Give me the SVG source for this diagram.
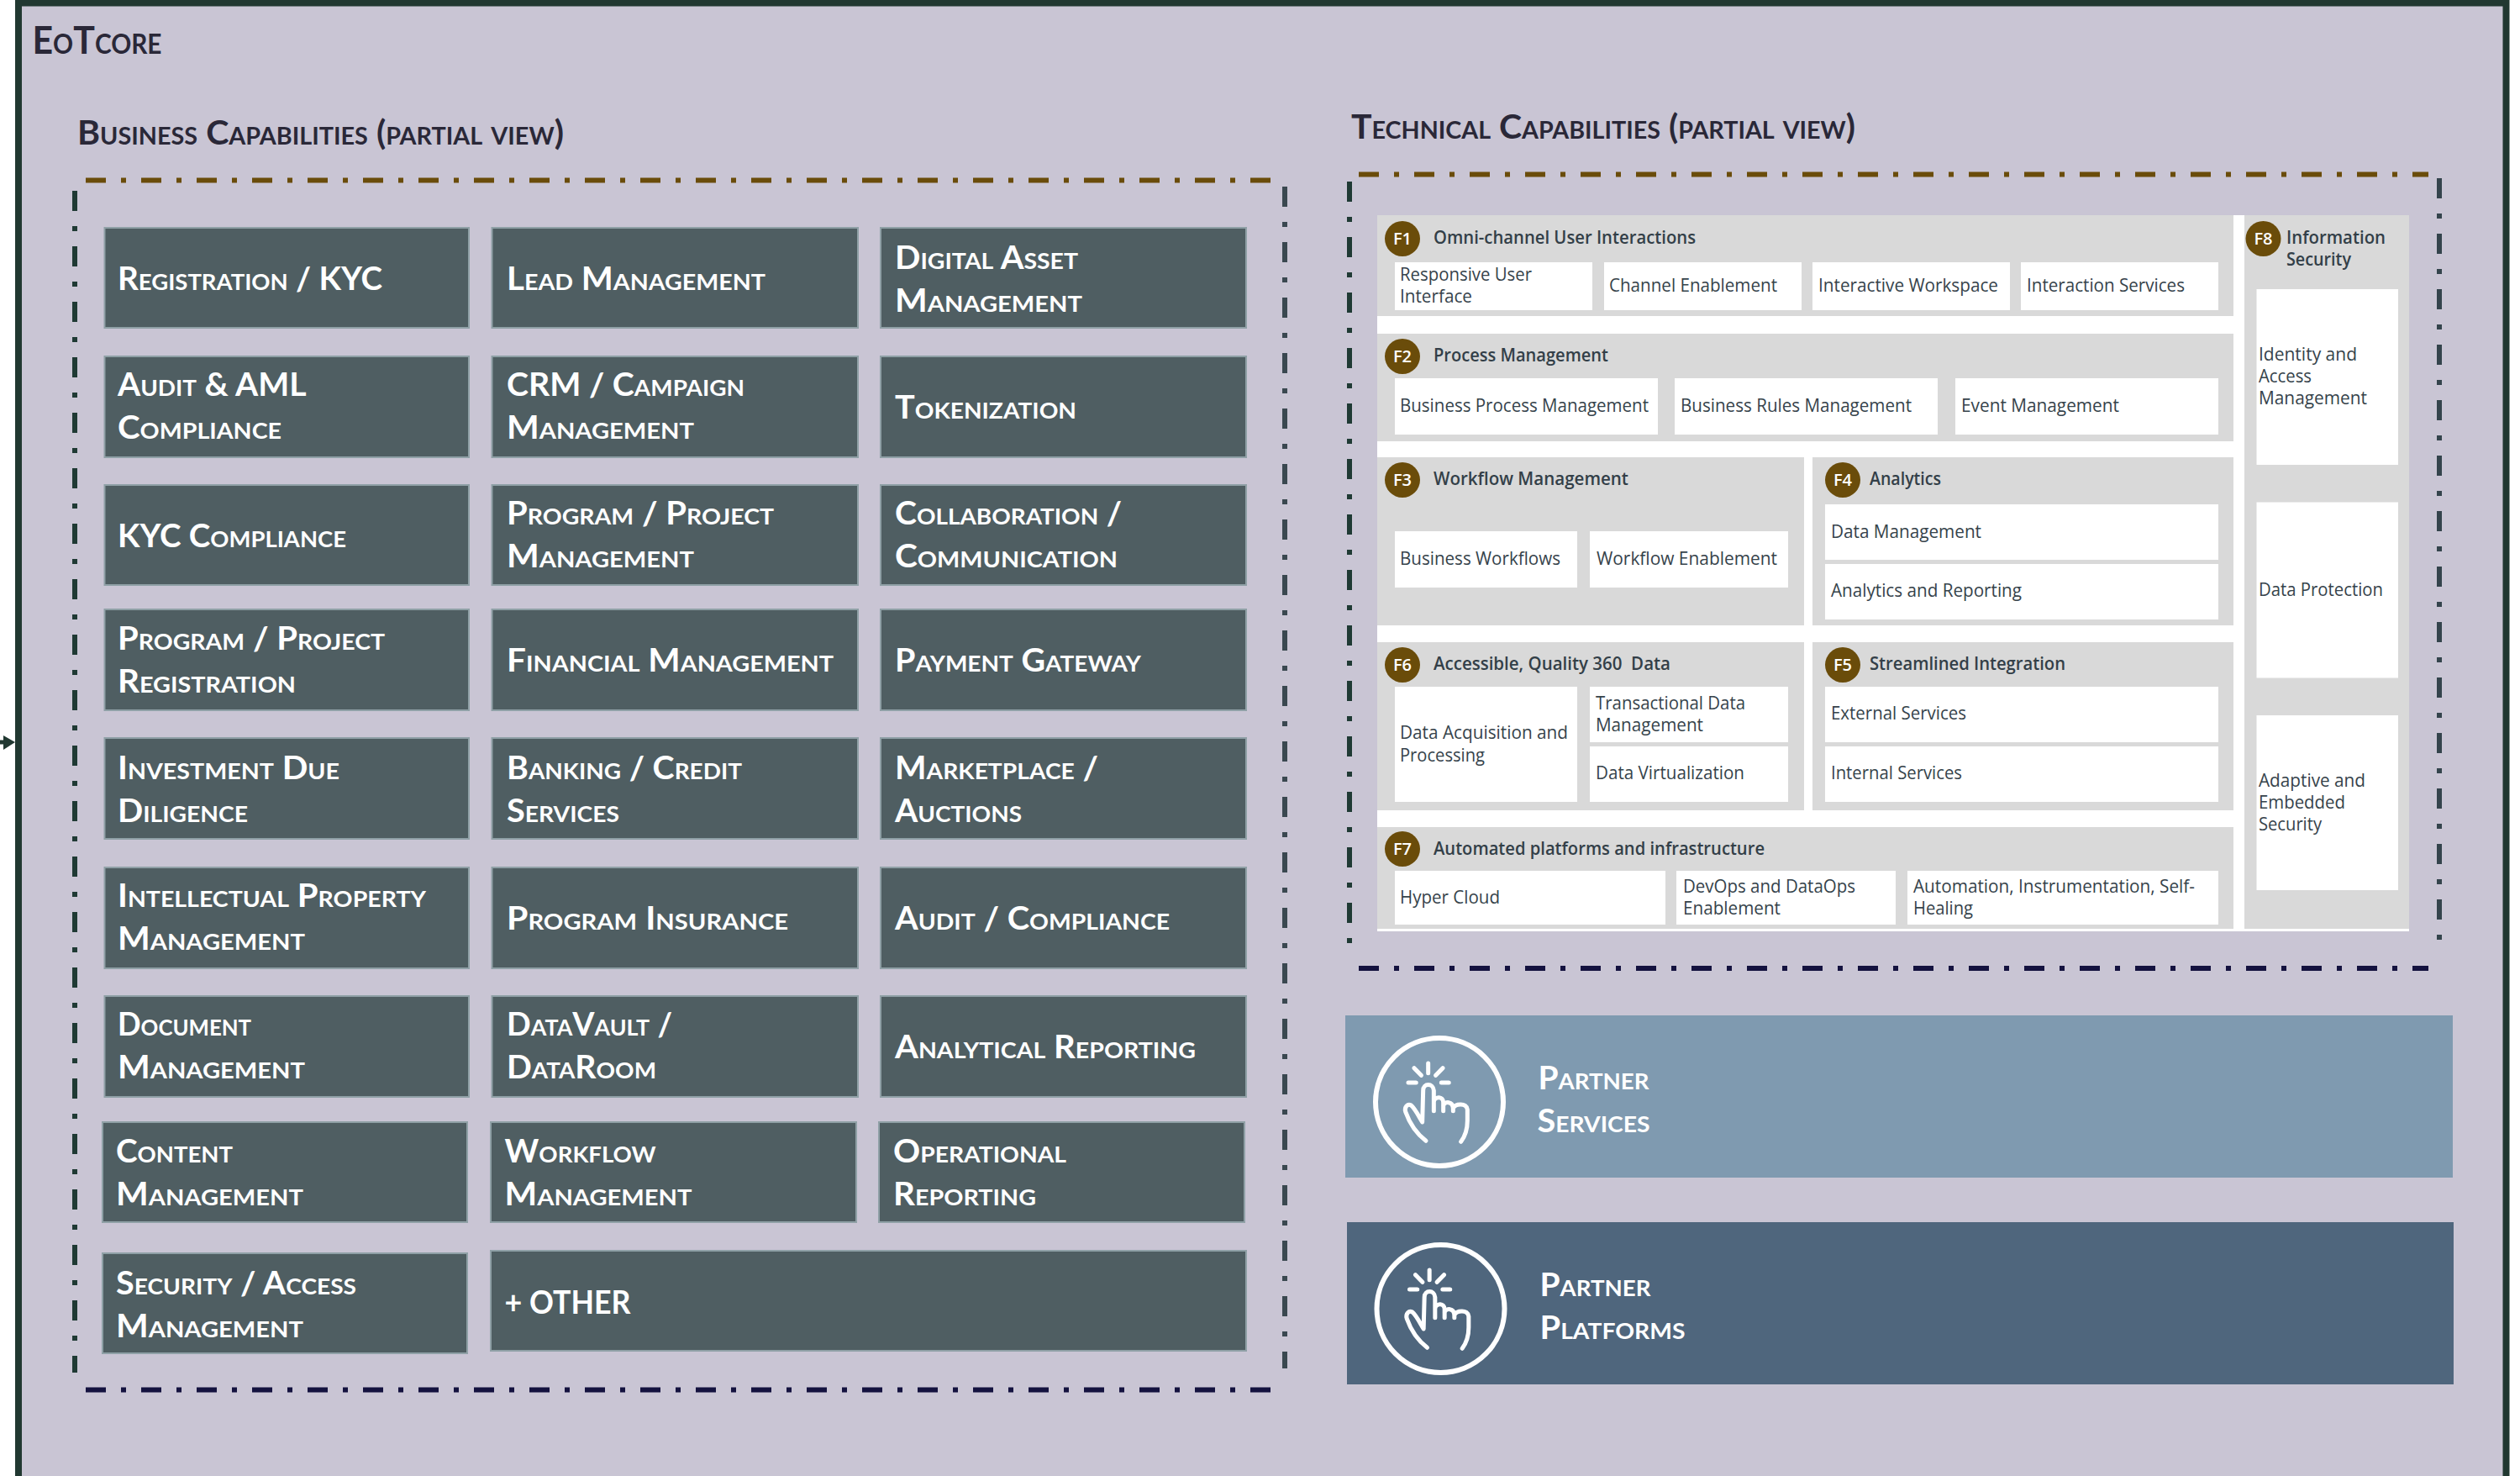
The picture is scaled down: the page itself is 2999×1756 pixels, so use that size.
<svg xmlns="http://www.w3.org/2000/svg" width="2999" height="1756" viewBox="0 0 2999 1756">
<style>
text{white-space:pre}
.c{font-family:"Lato","Liberation Sans",sans-serif;font-variant:small-caps;font-weight:700;font-size:38px;fill:#fff}
.h{font-family:"Lato","Liberation Sans",sans-serif;font-variant:small-caps;font-weight:700;font-size:40px;fill:#2a2838}
.b{fill:#4f5e62;stroke:#8fa0a6;stroke-width:2}
.t{font-family:"Open Sans","Liberation Sans",sans-serif;font-size:21px;fill:#36434b}
.s{font-family:"Open Sans","Liberation Sans",sans-serif;font-size:21px;font-weight:600;fill:#333f48}
.n{font-family:"Open Sans","Liberation Sans",sans-serif;font-size:20px;font-weight:600;fill:#fff;text-anchor:middle}
.p{fill:#d9d9d9}
.w{fill:#fff}
.f{fill:#6a4c0a}
.d{fill:none;stroke-width:6;stroke-dasharray:24 18 6 18}
.i{fill:none;stroke:#fff;stroke-width:6}
.a{fill:none;stroke:#fff;stroke-width:15;stroke-linecap:round;stroke-linejoin:round}
</style>
<defs>
<g id="hand" transform="scale(.3333) translate(-248 -273)">
<path class="a" d="M208 135V170M158 152L183 178M260 152L235 178M137 204H165M255 204H282"/>
<path class="a" d="M200 412C165 385 140 345 127 308C122 290 135 278 147 285C160 295 175 325 187 345L190 232C190 205 226 205 228 232L228 305M228 272C232 252 262 252 262 275L262 305M262 285C268 270 295 270 297 295L297 305M297 295C305 278 345 275 348 300L348 340C348 370 340 395 325 415"/>
</g>
</defs>
<rect width="2999" height="1756" fill="#fff"/>
<path id="frame" d="M22 1780V3.500H2982.500V1780Z" fill="#c9c5d4" stroke="#213831" stroke-width="8"/>
<text class="h" x="38.500" y="64" style="font-size:46px" textLength="154" lengthAdjust="spacingAndGlyphs">EoTcore</text>
<text class="h" x="92" y="172" textLength="579" lengthAdjust="spacingAndGlyphs">Business Capabilities (partial view)</text>
<text class="h" x="1608" y="165" textLength="600" lengthAdjust="spacingAndGlyphs">Technical Capabilities (partial view)</text>
<g id="connectors">
<path d="M0 883H6" stroke="#213831" stroke-width="5" fill="none"/>
<path d="M4 875L18 883L4 892Z" fill="#213831"/>
</g>
<g id="business-border">
<path class="d" stroke="#6a4c0a" d="M102 214.500H1512"/>
<path class="d" stroke="#14123f" d="M102 1653.500H1512"/>
<path class="d" stroke="#1f3a34" d="M89 227V1633"/>
<path class="d" stroke="#3a4850" d="M1529 222V1628"/>
</g>
<g id="technical-border">
<path class="d" stroke="#6a4c0a" d="M1617 207.500H2890"/>
<path class="d" stroke="#14123f" d="M1617 1152H2890"/>
<path class="d" stroke="#1f3a34" d="M1606 216V1125"/>
<path class="d" stroke="#34444c" d="M2903 212V1122"/>
</g>
<g id="biz-registration"><rect class="b" x="124.500" y="271" width="433.500" height="119"/><text class="c" x="140" y="345" textLength="315" lengthAdjust="spacingAndGlyphs">Registration / KYC</text></g>
<g id="biz-lead"><rect class="b" x="585.500" y="271" width="435.500" height="119"/><text class="c" x="603" y="345" textLength="308" lengthAdjust="spacingAndGlyphs">Lead Management</text></g>
<g id="biz-digital"><rect class="b" x="1048" y="271" width="435" height="119"/><text class="c" x="1065" y="320" textLength="218" lengthAdjust="spacingAndGlyphs">Digital Asset</text><text class="c" x="1065" y="371" textLength="223" lengthAdjust="spacingAndGlyphs">Management</text></g>
<g id="biz-audit-aml"><rect class="b" x="124.500" y="424" width="433.500" height="120"/><text class="c" x="140" y="470.500" textLength="224.500" lengthAdjust="spacingAndGlyphs">Audit &amp; AML</text><text class="c" x="140" y="521.500" textLength="195" lengthAdjust="spacingAndGlyphs">Compliance</text></g>
<g id="biz-crm"><rect class="b" x="585.500" y="424" width="435.500" height="120"/><text class="c" x="603" y="470.500" textLength="283" lengthAdjust="spacingAndGlyphs">CRM / Campaign</text><text class="c" x="603" y="521.500" textLength="223" lengthAdjust="spacingAndGlyphs">Management</text></g>
<g id="biz-token"><rect class="b" x="1048" y="424" width="435" height="120"/><text class="c" x="1065" y="497.500" textLength="216" lengthAdjust="spacingAndGlyphs">Tokenization</text></g>
<g id="biz-kyc"><rect class="b" x="124.500" y="577" width="433.500" height="119"/><text class="c" x="140" y="651" textLength="272" lengthAdjust="spacingAndGlyphs">KYC Compliance</text></g>
<g id="biz-program"><rect class="b" x="585.500" y="577" width="435.500" height="119"/><text class="c" x="603" y="624" textLength="318" lengthAdjust="spacingAndGlyphs">Program / Project</text><text class="c" x="603" y="675" textLength="223" lengthAdjust="spacingAndGlyphs">Management</text></g>
<g id="biz-collab"><rect class="b" x="1048" y="577" width="435" height="119"/><text class="c" x="1065" y="624" textLength="270" lengthAdjust="spacingAndGlyphs">Collaboration /</text><text class="c" x="1065" y="675" textLength="265" lengthAdjust="spacingAndGlyphs">Communication</text></g>
<g id="biz-program-reg"><rect class="b" x="124.500" y="725" width="433.500" height="120"/><text class="c" x="140" y="772.500" textLength="318" lengthAdjust="spacingAndGlyphs">Program / Project</text><text class="c" x="140" y="823.500" textLength="212" lengthAdjust="spacingAndGlyphs">Registration</text></g>
<g id="biz-financial"><rect class="b" x="585.500" y="725" width="435.500" height="120"/><text class="c" x="603" y="799" textLength="389" lengthAdjust="spacingAndGlyphs">Financial Management</text></g>
<g id="biz-payment"><rect class="b" x="1048" y="725" width="435" height="120"/><text class="c" x="1065" y="799" textLength="293" lengthAdjust="spacingAndGlyphs">Payment Gateway</text></g>
<g id="biz-investment"><rect class="b" x="124.500" y="878" width="433.500" height="120"/><text class="c" x="140" y="926.500" textLength="264" lengthAdjust="spacingAndGlyphs">Investment Due</text><text class="c" x="140" y="977.500" textLength="155" lengthAdjust="spacingAndGlyphs">Diligence</text></g>
<g id="biz-banking"><rect class="b" x="585.500" y="878" width="435.500" height="120"/><text class="c" x="603" y="926.500" textLength="280" lengthAdjust="spacingAndGlyphs">Banking / Credit</text><text class="c" x="603" y="977.500" textLength="134" lengthAdjust="spacingAndGlyphs">Services</text></g>
<g id="biz-marketplace"><rect class="b" x="1048" y="878" width="435" height="120"/><text class="c" x="1065" y="926.500" textLength="242" lengthAdjust="spacingAndGlyphs">Marketplace /</text><text class="c" x="1065" y="977.500" textLength="151" lengthAdjust="spacingAndGlyphs">Auctions</text></g>
<g id="biz-ip"><rect class="b" x="124.500" y="1032" width="433.500" height="120"/><text class="c" x="140" y="1079" textLength="367" lengthAdjust="spacingAndGlyphs">Intellectual Property</text><text class="c" x="140" y="1130" textLength="223" lengthAdjust="spacingAndGlyphs">Management</text></g>
<g id="biz-insurance"><rect class="b" x="585.500" y="1032" width="435.500" height="120"/><text class="c" x="603" y="1106" textLength="335" lengthAdjust="spacingAndGlyphs">Program Insurance</text></g>
<g id="biz-audit"><rect class="b" x="1048" y="1032" width="435" height="120"/><text class="c" x="1065" y="1106" textLength="327" lengthAdjust="spacingAndGlyphs">Audit / Compliance</text></g>
<g id="biz-document"><rect class="b" x="124.500" y="1185" width="433.500" height="120"/><text class="c" x="140" y="1232" textLength="159" lengthAdjust="spacingAndGlyphs">Document</text><text class="c" x="140" y="1283" textLength="223" lengthAdjust="spacingAndGlyphs">Management</text></g>
<g id="biz-datavault"><rect class="b" x="585.500" y="1185" width="435.500" height="120"/><text class="c" x="603" y="1232" textLength="197" lengthAdjust="spacingAndGlyphs">DataVault /</text><text class="c" x="603" y="1283" textLength="178" lengthAdjust="spacingAndGlyphs">DataRoom</text></g>
<g id="biz-analytical"><rect class="b" x="1048" y="1185" width="435" height="120"/><text class="c" x="1065" y="1259" textLength="358" lengthAdjust="spacingAndGlyphs">Analytical Reporting</text></g>
<g id="biz-content"><rect class="b" x="122" y="1335" width="434" height="119"/><text class="c" x="138" y="1383" textLength="139" lengthAdjust="spacingAndGlyphs">Content</text><text class="c" x="138" y="1434" textLength="223" lengthAdjust="spacingAndGlyphs">Management</text></g>
<g id="biz-workflow"><rect class="b" x="584" y="1335" width="435" height="119"/><text class="c" x="600.500" y="1383" textLength="180" lengthAdjust="spacingAndGlyphs">Workflow</text><text class="c" x="600.500" y="1434" textLength="223" lengthAdjust="spacingAndGlyphs">Management</text></g>
<g id="biz-operational"><rect class="b" x="1046" y="1335" width="435" height="119"/><text class="c" x="1063" y="1383" textLength="206" lengthAdjust="spacingAndGlyphs">Operational</text><text class="c" x="1063" y="1434" textLength="170" lengthAdjust="spacingAndGlyphs">Reporting</text></g>
<g id="biz-security"><rect class="b" x="122" y="1491" width="434" height="119"/><text class="c" x="138" y="1540" textLength="286" lengthAdjust="spacingAndGlyphs">Security / Access</text><text class="c" x="138" y="1591" textLength="223" lengthAdjust="spacingAndGlyphs">Management</text></g>
<g id="biz-other"><rect class="b" x="584" y="1488" width="899" height="119"/><text class="c" x="600.500" y="1563" textLength="150" lengthAdjust="spacingAndGlyphs">+ OTHER</text></g>
<rect id="tech-back" class="w" x="1639" y="256" width="1228" height="852"/>
<g id="F1"><rect class="p" x="1639" y="256" width="1019" height="120"/><circle class="f" cx="1669" cy="284" r="21"/><text class="n" x="1669" y="291">F1</text><text class="s" x="1706" y="290" textLength="312" lengthAdjust="spacingAndGlyphs">Omni-channel User Interactions</text>
<rect class="w" x="1660" y="312" width="235" height="57"/><text class="t" x="1666" y="333.500" textLength="157" lengthAdjust="spacingAndGlyphs">Responsive User</text><text class="t" x="1666" y="360" textLength="86" lengthAdjust="spacingAndGlyphs">Interface</text>
<rect class="w" x="1909" y="312" width="235" height="57"/><text class="t" x="1915" y="346.500" textLength="200" lengthAdjust="spacingAndGlyphs">Channel Enablement</text>
<rect class="w" x="2157" y="312" width="235" height="57"/><text class="t" x="2164" y="346.500" textLength="214" lengthAdjust="spacingAndGlyphs">Interactive Workspace</text>
<rect class="w" x="2405" y="312" width="235" height="57"/><text class="t" x="2412" y="346.500" textLength="188" lengthAdjust="spacingAndGlyphs">Interaction Services</text></g>
<g id="F2"><rect class="p" x="1639" y="397" width="1019" height="128"/><circle class="f" cx="1669" cy="424" r="21"/><text class="n" x="1669" y="431">F2</text><text class="s" x="1706" y="430" textLength="208" lengthAdjust="spacingAndGlyphs">Process Management</text>
<rect class="w" x="1660" y="450" width="313" height="67"/><text class="t" x="1666" y="489.500" textLength="296" lengthAdjust="spacingAndGlyphs">Business Process Management</text>
<rect class="w" x="1993" y="450" width="313" height="67"/><text class="t" x="2000" y="489.500" textLength="275" lengthAdjust="spacingAndGlyphs">Business Rules Management</text>
<rect class="w" x="2327" y="450" width="313" height="67"/><text class="t" x="2334" y="489.500" textLength="188" lengthAdjust="spacingAndGlyphs">Event Management</text></g>
<g id="F3"><rect class="p" x="1639" y="544" width="508" height="200"/><circle class="f" cx="1669" cy="571" r="21"/><text class="n" x="1669" y="578">F3</text><text class="s" x="1706" y="577" textLength="232" lengthAdjust="spacingAndGlyphs">Workflow Management</text>
<rect class="w" x="1660" y="632" width="217" height="67"/><text class="t" x="1666" y="671.500" textLength="191" lengthAdjust="spacingAndGlyphs">Business Workflows</text>
<rect class="w" x="1892" y="632" width="236" height="67"/><text class="t" x="1900" y="671.500" textLength="215" lengthAdjust="spacingAndGlyphs">Workflow Enablement</text></g>
<g id="F4"><rect class="p" x="2157" y="544" width="501" height="200"/><circle class="f" cx="2193" cy="571" r="21"/><text class="n" x="2193" y="578">F4</text><text class="s" x="2225" y="577" textLength="85" lengthAdjust="spacingAndGlyphs">Analytics</text>
<rect class="w" x="2172" y="600" width="468" height="66"/><text class="t" x="2179" y="639.500" textLength="179" lengthAdjust="spacingAndGlyphs">Data Management</text>
<rect class="w" x="2172" y="671" width="468" height="66"/><text class="t" x="2179" y="710" textLength="227" lengthAdjust="spacingAndGlyphs">Analytics and Reporting</text></g>
<g id="F6"><rect class="p" x="1639" y="764" width="508" height="200"/><circle class="f" cx="1669" cy="791" r="21"/><text class="n" x="1669" y="798">F6</text><text class="s" x="1706" y="797" textLength="282" lengthAdjust="spacingAndGlyphs">Accessible, Quality 360  Data</text>
<rect class="w" x="1660" y="817" width="217" height="137"/><text class="t" x="1666" y="879" textLength="200" lengthAdjust="spacingAndGlyphs">Data Acquisition and</text><text class="t" x="1666" y="905.500" textLength="101" lengthAdjust="spacingAndGlyphs">Processing</text>
<rect class="w" x="1892" y="817" width="236" height="66"/><text class="t" x="1899" y="843.500" textLength="178" lengthAdjust="spacingAndGlyphs">Transactional Data</text><text class="t" x="1899" y="869.500" textLength="128" lengthAdjust="spacingAndGlyphs">Management</text>
<rect class="w" x="1892" y="888" width="236" height="66"/><text class="t" x="1899" y="926.500" textLength="177" lengthAdjust="spacingAndGlyphs">Data Virtualization</text></g>
<g id="F5"><rect class="p" x="2157" y="764" width="501" height="200"/><circle class="f" cx="2193" cy="791" r="21"/><text class="n" x="2193" y="798">F5</text><text class="s" x="2225" y="797" textLength="233" lengthAdjust="spacingAndGlyphs">Streamlined Integration</text>
<rect class="w" x="2172" y="817" width="468" height="66"/><text class="t" x="2179" y="855.500" textLength="161" lengthAdjust="spacingAndGlyphs">External Services</text>
<rect class="w" x="2172" y="888" width="468" height="66"/><text class="t" x="2179" y="926.500" textLength="156" lengthAdjust="spacingAndGlyphs">Internal Services</text></g>
<g id="F7"><rect class="p" x="1639" y="984" width="1019" height="121"/><circle class="f" cx="1669" cy="1010" r="21"/><text class="n" x="1669" y="1017">F7</text><text class="s" x="1706" y="1017" textLength="394" lengthAdjust="spacingAndGlyphs">Automated platforms and infrastructure</text>
<rect class="w" x="1660" y="1036" width="322" height="64"/><text class="t" x="1666" y="1074.500" textLength="119" lengthAdjust="spacingAndGlyphs">Hyper Cloud</text>
<rect class="w" x="1995" y="1036" width="261" height="64"/><text class="t" x="2003" y="1062" textLength="205" lengthAdjust="spacingAndGlyphs">DevOps and DataOps</text><text class="t" x="2003" y="1088" textLength="116" lengthAdjust="spacingAndGlyphs">Enablement</text>
<rect class="w" x="2270" y="1036" width="370" height="64"/><text class="t" x="2277" y="1062" textLength="335" lengthAdjust="spacingAndGlyphs">Automation, Instrumentation, Self-</text><text class="t" x="2277" y="1088" textLength="71" lengthAdjust="spacingAndGlyphs">Healing</text></g>
<g id="F8"><rect class="p" x="2671" y="256" width="196" height="849"/><circle class="f" cx="2693.500" cy="284" r="21"/><text class="n" x="2693.500" y="291">F8</text><text class="s" x="2721" y="290" textLength="118" lengthAdjust="spacingAndGlyphs">Information</text><text class="s" x="2721" y="316" textLength="77" lengthAdjust="spacingAndGlyphs">Security</text>
<rect class="w" x="2685.500" y="344" width="168.500" height="209"/><text class="t" x="2688" y="428.500" textLength="117" lengthAdjust="spacingAndGlyphs">Identity and</text><text class="t" x="2688" y="455" textLength="63" lengthAdjust="spacingAndGlyphs">Access</text><text class="t" x="2688" y="480.500" textLength="129" lengthAdjust="spacingAndGlyphs">Management</text>
<rect class="w" x="2685.500" y="597.500" width="168.500" height="209"/><text class="t" x="2688" y="708.500" textLength="148" lengthAdjust="spacingAndGlyphs">Data Protection</text>
<rect class="w" x="2685.500" y="851" width="168.500" height="208"/><text class="t" x="2688" y="935.500" textLength="127" lengthAdjust="spacingAndGlyphs">Adaptive and</text><text class="t" x="2688" y="962" textLength="103" lengthAdjust="spacingAndGlyphs">Embedded</text><text class="t" x="2688" y="987.500" textLength="75" lengthAdjust="spacingAndGlyphs">Security</text></g>
<g id="partner-services"><rect x="1601" y="1208" width="1318" height="193" fill="#7f9ab0"/><circle class="i" cx="1713" cy="1311" r="76"/><use href="#hand" transform="translate(1713 1311)"/><text class="c" x="1830.500" y="1296" textLength="132" lengthAdjust="spacingAndGlyphs">Partner</text><text class="c" x="1829.500" y="1347" textLength="134" lengthAdjust="spacingAndGlyphs">Services</text></g>
<g id="partner-platforms"><rect x="1603" y="1454" width="1317" height="193" fill="#4f667d"/><circle class="i" cx="1714.500" cy="1557" r="76"/><use href="#hand" transform="translate(1714.500 1557)"/><text class="c" x="1832.500" y="1542" textLength="132" lengthAdjust="spacingAndGlyphs">Partner</text><text class="c" x="1832.500" y="1593" textLength="173" lengthAdjust="spacingAndGlyphs">Platforms</text></g>
</svg>
